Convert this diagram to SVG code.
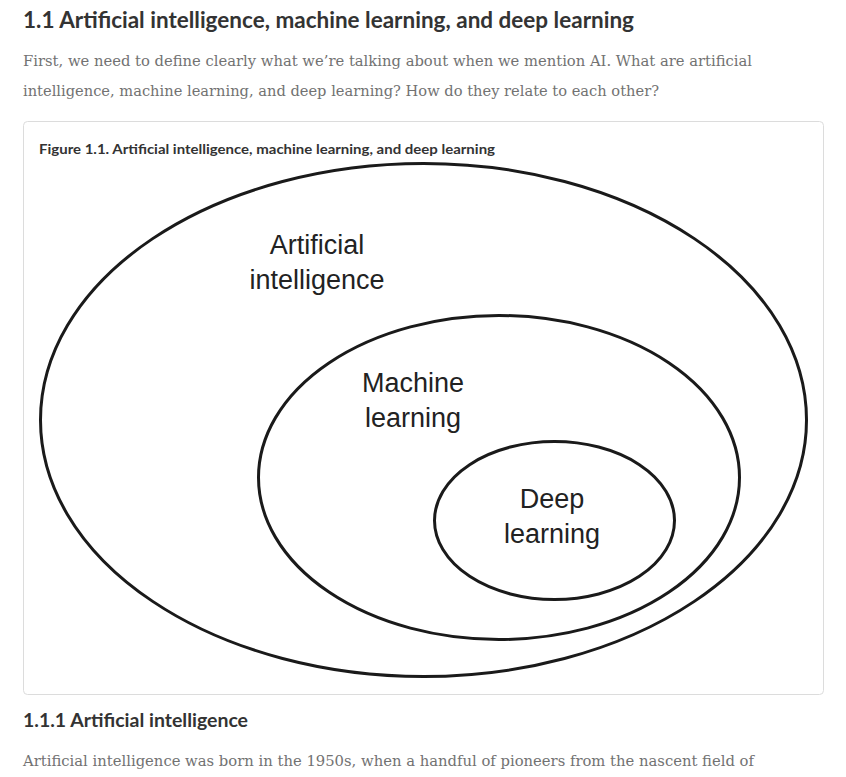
<svg xmlns="http://www.w3.org/2000/svg" width="846" height="777" viewBox="0 0 846 777">
<style>
.h{font-family:Lato,"Liberation Sans",sans-serif;font-weight:bold;fill:#333}
.p{font-family:"DejaVu Serif","Liberation Serif",serif;font-size:15px;fill:#727272}
.lbl{font-family:"Liberation Sans",Arial,sans-serif;font-size:27px;fill:#222;text-anchor:middle}
.ring{fill:none;stroke:#1a1a1a;stroke-width:3}
</style>
<rect width="846" height="777" fill="#fff"/>
<text class="h" x="23" y="28" font-size="22" textLength="611" lengthAdjust="spacingAndGlyphs">1.1 Artificial intelligence, machine learning, and deep learning</text>
<text class="p" x="23" y="66" textLength="729" lengthAdjust="spacingAndGlyphs">First, we need to define clearly what we’re talking about when we mention AI. What are artificial</text>
<text class="p" x="23" y="96" textLength="636" lengthAdjust="spacingAndGlyphs">intelligence, machine learning, and deep learning? How do they relate to each other?</text>
<rect x="23.5" y="121.5" width="800" height="573" rx="4" fill="#fff" stroke="#dcdcdc"/>
<text class="h" x="39" y="154" font-size="14" textLength="456" lengthAdjust="spacingAndGlyphs">Figure 1.1. Artificial intelligence, machine learning, and deep learning</text>
<g id="ai">
<ellipse class="ring" cx="423.5" cy="420" rx="383" ry="256.5"/>
<text class="lbl" x="317" y="254">Artificial</text>
<text class="lbl" x="317" y="289">intelligence</text>
</g>
<g id="ml">
<ellipse class="ring" cx="499" cy="477.5" rx="240.5" ry="162"/>
<text class="lbl" x="413" y="392">Machine</text>
<text class="lbl" x="413" y="427">learning</text>
</g>
<g id="dl">
<ellipse class="ring" cx="554.5" cy="520.5" rx="120" ry="79"/>
<text class="lbl" x="552" y="508">Deep</text>
<text class="lbl" x="552" y="543">learning</text>
</g>
<g id="connectors"/>
<text class="h" x="23" y="727" font-size="19" textLength="225" lengthAdjust="spacingAndGlyphs">1.1.1 Artificial intelligence</text>
<text class="p" x="23" y="766" textLength="731" lengthAdjust="spacingAndGlyphs">Artificial intelligence was born in the 1950s, when a handful of pioneers from the nascent field of</text>
</svg>
